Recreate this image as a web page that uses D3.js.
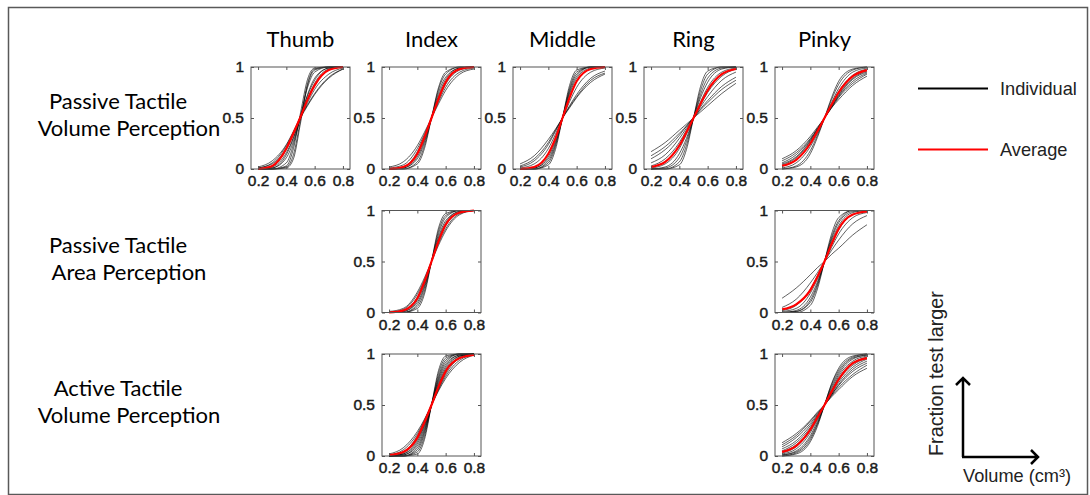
<!DOCTYPE html>
<html>
<head>
<meta charset="utf-8">
<script src="https://cdn.jsdelivr.net/npm/d3@7"></script>
<style>
  body { margin: 0; background: #fff; }
  .title { font-family: Lato, "Noto Sans", sans-serif; font-size: 22px; fill: #000; }
  .legendText { font-family: "Liberation Sans", Arial, sans-serif; font-size: 18.2px; fill: #222; }
</style>
</head>
<body>
<div id="chart"></div>
<script>
// set up figure size
var svgWidth = 1090;
var svgHeight = 495;

// chart data (fraction "test larger" read at these volumes)
var volumes = [0.2, 0.3, 0.4, 0.45, 0.5, 0.55, 0.6, 0.7, 0.8];
var fingers = ["Thumb", "Index", "Middle", "Ring", "Pinky"];
var conditions = [["Passive Tactile", "Volume Perception"], ["Passive Tactile", "Area Perception"], ["Active Tactile", "Volume Perception"]];
var xTicks = [0.2, 0.4, 0.6, 0.8];
var yTicks = [0, 0.5, 1];
var legendLabels = ["Individual", "Average"];

var passiveVolThumb = [
  [0, 0, 0.03, 0.2, 0.55, 0.88, 0.99, 1, 1],
  [0, 0, 0.02, 0.14, 0.48, 0.84, 0.98, 1, 1],
  [0, 0, 0.06, 0.24, 0.52, 0.8, 0.95, 1, 1],
  [0, 0, 0.01, 0.1, 0.45, 0.82, 0.97, 1, 1],
  [0, 0.01, 0.11, 0.27, 0.5, 0.73, 0.89, 0.99, 1],
  [0, 0.01, 0.14, 0.3, 0.52, 0.72, 0.87, 0.99, 1],
  [0, 0.02, 0.16, 0.31, 0.5, 0.69, 0.84, 0.98, 1],
  [0, 0.03, 0.19, 0.34, 0.52, 0.68, 0.82, 0.97, 1],
  [0.01, 0.05, 0.21, 0.35, 0.5, 0.65, 0.78, 0.93, 0.99],
  [0.02, 0.08, 0.24, 0.37, 0.51, 0.63, 0.74, 0.9, 0.98],
  [0.01, 0.06, 0.23, 0.36, 0.5, 0.62, 0.73, 0.89, 0.98]
];
var passiveVolThumbAvg = [0, 0.03, 0.2, 0.35, 0.51, 0.68, 0.82, 0.97, 1];

var passiveVolIndex = [
  [0, 0, 0.05, 0.2, 0.5, 0.8, 0.95, 1, 1],
  [0, 0, 0.07, 0.23, 0.5, 0.78, 0.93, 1, 1],
  [0, 0.01, 0.1, 0.26, 0.5, 0.75, 0.9, 0.99, 1],
  [0, 0.01, 0.12, 0.28, 0.5, 0.72, 0.88, 0.99, 1],
  [0, 0.02, 0.15, 0.3, 0.5, 0.7, 0.85, 0.98, 1],
  [0, 0.02, 0.17, 0.32, 0.5, 0.68, 0.83, 0.97, 1],
  [0.01, 0.04, 0.2, 0.34, 0.5, 0.66, 0.8, 0.95, 0.99],
  [0.02, 0.07, 0.23, 0.36, 0.5, 0.64, 0.77, 0.93, 0.98]
];
var passiveVolIndexAvg = [0, 0.02, 0.15, 0.31, 0.5, 0.69, 0.85, 0.98, 1];

var passiveVolMiddle = [
  [0, 0, 0.04, 0.19, 0.5, 0.82, 0.97, 1, 1],
  [0, 0, 0.06, 0.22, 0.5, 0.79, 0.95, 1, 1],
  [0, 0, 0.08, 0.24, 0.5, 0.77, 0.93, 1, 1],
  [0, 0.01, 0.1, 0.26, 0.5, 0.75, 0.91, 1, 1],
  [0, 0.01, 0.12, 0.28, 0.5, 0.73, 0.89, 0.99, 1],
  [0.02, 0.08, 0.24, 0.37, 0.5, 0.62, 0.73, 0.89, 0.96],
  [0.03, 0.1, 0.26, 0.38, 0.5, 0.61, 0.71, 0.87, 0.94],
  [0.05, 0.13, 0.29, 0.39, 0.5, 0.6, 0.7, 0.85, 0.93],
  [0.01, 0.05, 0.2, 0.34, 0.5, 0.66, 0.8, 0.95, 0.99]
];
var passiveVolMiddleAvg = [0, 0.02, 0.15, 0.3, 0.5, 0.7, 0.86, 0.98, 1];

var passiveVolRing = [
  [0.17, 0.26, 0.38, 0.44, 0.5, 0.56, 0.62, 0.74, 0.84],
  [0.13, 0.22, 0.35, 0.42, 0.5, 0.58, 0.65, 0.78, 0.87],
  [0.1, 0.19, 0.33, 0.42, 0.5, 0.59, 0.67, 0.81, 0.9],
  [0.06, 0.14, 0.3, 0.4, 0.5, 0.61, 0.71, 0.87, 0.95],
  [0.03, 0.1, 0.26, 0.38, 0.5, 0.63, 0.75, 0.91, 0.98],
  [0.01, 0.05, 0.2, 0.34, 0.5, 0.66, 0.8, 0.95, 0.99],
  [0, 0.02, 0.15, 0.3, 0.5, 0.7, 0.85, 0.98, 1],
  [0, 0.01, 0.11, 0.27, 0.5, 0.73, 0.89, 0.99, 1],
  [0, 0, 0.07, 0.23, 0.5, 0.77, 0.93, 1, 1],
  [0, 0, 0.04, 0.19, 0.5, 0.81, 0.96, 1, 1]
];
var passiveVolRingAvg = [0.02, 0.07, 0.23, 0.36, 0.5, 0.64, 0.77, 0.93, 0.98];

var passiveVolPinky = [
  [0.1, 0.18, 0.32, 0.41, 0.5, 0.6, 0.68, 0.82, 0.91],
  [0.08, 0.16, 0.3, 0.4, 0.5, 0.6, 0.7, 0.84, 0.93],
  [0.06, 0.14, 0.29, 0.39, 0.5, 0.61, 0.71, 0.86, 0.94],
  [0.04, 0.11, 0.27, 0.38, 0.5, 0.62, 0.73, 0.89, 0.96],
  [0.03, 0.09, 0.25, 0.37, 0.5, 0.63, 0.76, 0.92, 0.98],
  [0.01, 0.06, 0.22, 0.35, 0.5, 0.65, 0.79, 0.95, 0.99],
  [0, 0.03, 0.18, 0.33, 0.5, 0.68, 0.83, 0.97, 1],
  [0, 0.02, 0.15, 0.31, 0.5, 0.7, 0.86, 0.98, 1],
  [0.05, 0.12, 0.28, 0.39, 0.5, 0.61, 0.72, 0.88, 0.95]
];
var passiveVolPinkyAvg = [0.03, 0.09, 0.25, 0.37, 0.5, 0.63, 0.75, 0.91, 0.97];

var passiveAreaIndex = [
  [0, 0, 0.04, 0.18, 0.5, 0.83, 0.97, 1, 1],
  [0, 0, 0.06, 0.21, 0.5, 0.8, 0.95, 1, 1],
  [0, 0, 0.08, 0.24, 0.5, 0.77, 0.93, 1, 1],
  [0, 0.01, 0.1, 0.26, 0.5, 0.74, 0.9, 0.99, 1],
  [0, 0.01, 0.12, 0.28, 0.5, 0.72, 0.88, 0.99, 1],
  [0, 0.02, 0.15, 0.3, 0.5, 0.7, 0.85, 0.98, 1],
  [0, 0.03, 0.18, 0.32, 0.5, 0.68, 0.82, 0.97, 1],
  [0.01, 0.04, 0.2, 0.34, 0.5, 0.66, 0.8, 0.96, 1]
];
var passiveAreaIndexAvg = [0, 0.02, 0.14, 0.3, 0.5, 0.7, 0.86, 0.98, 1];

var passiveAreaPinky = [
  [0.14, 0.24, 0.37, 0.44, 0.5, 0.57, 0.63, 0.76, 0.86],
  [0.05, 0.13, 0.29, 0.39, 0.5, 0.61, 0.71, 0.87, 0.95],
  [0.02, 0.07, 0.23, 0.36, 0.5, 0.64, 0.77, 0.93, 0.98],
  [0.01, 0.04, 0.19, 0.33, 0.5, 0.67, 0.81, 0.96, 0.99],
  [0, 0.02, 0.15, 0.3, 0.5, 0.7, 0.85, 0.98, 1],
  [0, 0.01, 0.12, 0.28, 0.5, 0.72, 0.88, 0.99, 1],
  [0, 0.01, 0.1, 0.26, 0.5, 0.74, 0.9, 1, 1],
  [0, 0, 0.07, 0.23, 0.5, 0.77, 0.93, 1, 1]
];
var passiveAreaPinkyAvg = [0.03, 0.08, 0.22, 0.35, 0.5, 0.67, 0.82, 0.96, 0.99];

var activeVolIndex = [
  [0, 0, 0.02, 0.16, 0.5, 0.84, 0.98, 1, 1],
  [0, 0, 0.04, 0.19, 0.5, 0.81, 0.96, 1, 1],
  [0, 0, 0.06, 0.22, 0.5, 0.78, 0.94, 1, 1],
  [0, 0, 0.08, 0.24, 0.5, 0.76, 0.92, 1, 1],
  [0, 0.01, 0.1, 0.26, 0.5, 0.74, 0.9, 0.99, 1],
  [0, 0.01, 0.12, 0.28, 0.5, 0.72, 0.88, 0.99, 1],
  [0, 0.02, 0.14, 0.3, 0.5, 0.7, 0.86, 0.98, 1],
  [0, 0.02, 0.16, 0.31, 0.5, 0.69, 0.84, 0.98, 1],
  [0, 0.03, 0.18, 0.33, 0.5, 0.67, 0.82, 0.97, 1],
  [0.01, 0.04, 0.2, 0.34, 0.5, 0.66, 0.8, 0.96, 1],
  [0.01, 0.06, 0.22, 0.35, 0.5, 0.65, 0.78, 0.94, 0.99],
  [0.02, 0.08, 0.24, 0.36, 0.5, 0.64, 0.76, 0.92, 0.99]
];
var activeVolIndexAvg = [0.01, 0.04, 0.18, 0.33, 0.5, 0.68, 0.83, 0.96, 0.99];

var activeVolPinky = [
  [0.13, 0.22, 0.35, 0.43, 0.5, 0.58, 0.65, 0.78, 0.86],
  [0.11, 0.2, 0.34, 0.42, 0.5, 0.59, 0.67, 0.8, 0.89],
  [0.09, 0.18, 0.32, 0.41, 0.5, 0.6, 0.69, 0.83, 0.91],
  [0.07, 0.15, 0.3, 0.4, 0.5, 0.6, 0.7, 0.85, 0.93],
  [0.05, 0.13, 0.28, 0.39, 0.5, 0.61, 0.72, 0.87, 0.95],
  [0.04, 0.11, 0.26, 0.38, 0.5, 0.62, 0.74, 0.89, 0.96],
  [0.03, 0.09, 0.25, 0.37, 0.5, 0.63, 0.76, 0.91, 0.97],
  [0.02, 0.07, 0.23, 0.36, 0.5, 0.64, 0.78, 0.93, 0.98],
  [0.01, 0.05, 0.2, 0.34, 0.5, 0.66, 0.8, 0.95, 0.99],
  [0.01, 0.04, 0.18, 0.32, 0.5, 0.68, 0.82, 0.96, 0.99],
  [0, 0.03, 0.16, 0.31, 0.5, 0.7, 0.84, 0.97, 1],
  [0, 0.02, 0.14, 0.29, 0.5, 0.71, 0.86, 0.98, 1]
];
var activeVolPinkyAvg = [0.04, 0.1, 0.26, 0.38, 0.5, 0.63, 0.75, 0.91, 0.96];

// which panel sits where (row = condition, col = finger)
var panels = [
  {row: 0, col: 0, curves: passiveVolThumb, avg: passiveVolThumbAvg},
  {row: 0, col: 1, curves: passiveVolIndex, avg: passiveVolIndexAvg},
  {row: 0, col: 2, curves: passiveVolMiddle, avg: passiveVolMiddleAvg},
  {row: 0, col: 3, curves: passiveVolRing, avg: passiveVolRingAvg},
  {row: 0, col: 4, curves: passiveVolPinky, avg: passiveVolPinkyAvg},
  {row: 1, col: 1, curves: passiveAreaIndex, avg: passiveAreaIndexAvg},
  {row: 1, col: 4, curves: passiveAreaPinky, avg: passiveAreaPinkyAvg},
  {row: 2, col: 1, curves: activeVolIndex, avg: activeVolIndexAvg},
  {row: 2, col: 4, curves: activeVolPinky, avg: activeVolPinkyAvg}
];

// panel layout
var panelLeft = 251;
var colStep = 131;
var panelTop = 67;
var rowStep = 143.5;
var panelW = 99;
var panelH = 102;

var svg = d3.select("#chart")
  .append("svg")
  .attr("width", svgWidth)
  .attr("height", svgHeight);

// outer frame
svg.append("rect")
  .attr("x", 8.5)
  .attr("y", 7.5)
  .attr("width", 1079)
  .attr("height", 487)
  .attr("fill", "none")
  .attr("stroke", "#595959")
  .attr("stroke-width", 1.5);

// scales shared by every panel
var xScale = d3.scaleLinear().domain([0.15, 0.85]).range([0, panelW]);
var yScale = d3.scaleLinear().domain([0, 1]).range([panelH, 0]);

var line = d3.line()
  .x((d, i) => xScale(volumes[i]))
  .y(d => yScale(d))
  .curve(d3.curveMonotoneX);

// column titles
svg.selectAll(".colTitle")
  .data(fingers)
  .enter()
  .append("text")
  .attr("class", "title colTitle")
  .attr("x", (d, i) => panelLeft + i * colStep + panelW / 2)
  .attr("y", 47)
  .attr("text-anchor", "middle")
  .text(d => d);

// row titles (two lines each)
conditions.forEach(function(lines, r) {
  svg.append("text")
    .attr("class", "title")
    .attr("x", 118)
    .attr("y", 109 + r * rowStep)
    .attr("text-anchor", "middle")
    .text(lines[0]);
  svg.append("text")
    .attr("class", "title")
    .attr("x", 129)
    .attr("y", 136 + r * rowStep)
    .attr("text-anchor", "middle")
    .text(lines[1]);
});

// draw the panels
panels.forEach(function(p) {
  var g = svg.append("g")
    .attr("transform", `translate(${panelLeft + p.col * colStep}, ${panelTop + p.row * rowStep})`);

  g.append("rect")
    .attr("width", panelW)
    .attr("height", panelH)
    .attr("fill", "#fff");

  g.selectAll(".ind")
    .data(p.curves)
    .enter()
    .append("path")
    .attr("class", "ind")
    .attr("d", line)
    .attr("fill", "none")
    .attr("stroke", "#000")
    .attr("stroke-opacity", 0.62)
    .attr("stroke-width", 1);

  g.append("path")
    .attr("d", line(p.avg))
    .attr("fill", "none")
    .attr("stroke", "#ff0000")
    .attr("stroke-width", 2.2);

  // axes, MATLAB style ticks inside the box
  g.append("g")
    .attr("transform", `translate(0, ${panelH})`)
    .call(d3.axisBottom(xScale).tickValues(xTicks).tickSizeInner(-3).tickSizeOuter(0).tickPadding(6).tickFormat(d3.format("")))
    .call(a => a.select(".domain").remove());
  g.append("g")
    .call(d3.axisTop(xScale).tickValues(xTicks).tickSizeInner(-3).tickSizeOuter(0).tickFormat(""))
    .call(a => a.select(".domain").remove());
  g.append("g")
    .call(d3.axisLeft(yScale).tickValues(yTicks).tickSizeInner(-3).tickSizeOuter(0).tickPadding(7).tickFormat(d3.format("")))
    .call(a => a.select(".domain").remove());
  g.append("g")
    .attr("transform", `translate(${panelW}, 0)`)
    .call(d3.axisRight(yScale).tickValues(yTicks).tickSizeInner(-3).tickSizeOuter(0).tickFormat(""))
    .call(a => a.select(".domain").remove());

  g.selectAll(".tick line").attr("stroke", "#555");
  g.selectAll(".tick text")
    .attr("font-family", "Liberation Sans, Arial, sans-serif")
    .attr("font-size", 15.5)
    .attr("fill", "#1a1a1a")
    .attr("stroke", "#1a1a1a")
    .attr("stroke-width", 0.45);

  g.append("rect")
    .attr("width", panelW)
    .attr("height", panelH)
    .attr("fill", "none")
    .attr("stroke", "#555")
    .attr("stroke-width", 1);
});

// legend
var legendColors = ["#000", "#ff0000"];
var legend = svg.selectAll(".legendItem")
  .data(legendLabels)
  .enter()
  .append("g")
  .attr("class", "legendItem")
  .attr("transform", (d, i) => `translate(918, ${88.5 + i * 61})`);

legend.append("line")
  .attr("x1", 0)
  .attr("x2", 70)
  .attr("stroke", (d, i) => legendColors[i])
  .attr("stroke-width", 2);

legend.append("text")
  .attr("class", "legendText")
  .attr("x", 82)
  .attr("y", 6.5)
  .text(d => d);

// axes guide arrows in the corner
var arrows = svg.append("g")
  .attr("fill", "none")
  .attr("stroke", "#000")
  .attr("stroke-width", 2.5);

arrows.append("path").attr("d", "M963,457 V378 M956,385 L963,378 L970,385");
arrows.append("path").attr("d", "M962,457 H1038 M1031,450 L1038,457 L1031,464");

svg.append("text")
  .attr("class", "legendText")
  .style("font-size", "19.8px")
  .attr("transform", "translate(943, 456) rotate(-90)")
  .text("Fraction test larger");

svg.append("text")
  .attr("class", "legendText")
  .attr("x", 963)
  .attr("y", 482)
  .text("Volume (cm³)");
</script>
</body>
</html>
